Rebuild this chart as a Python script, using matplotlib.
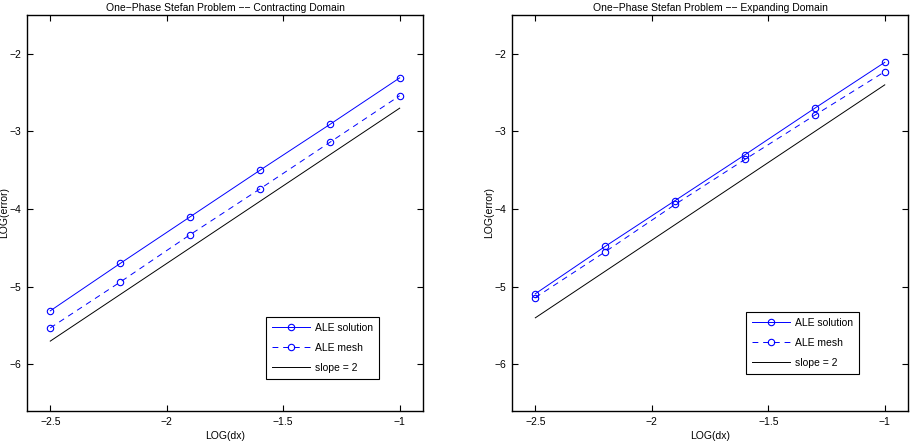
import matplotlib
matplotlib.use("Agg")
import matplotlib.pyplot as plt

dx = [-2.5, -2.2, -1.9, -1.6, -1.3, -1.0]

# contracting domain
con_sol = [-5.31, -4.70, -4.10, -3.50, -2.91, -2.31]
con_mesh = [-5.53, -4.94, -4.33, -3.74, -3.14, -2.54]
con_slope_x = [-2.5, -1.0]
con_slope_y = [-5.70, -2.70]

# expanding domain
exp_sol = [-5.09, -4.48, -3.89, -3.30, -2.70, -2.11]
exp_mesh = [-5.14, -4.55, -3.94, -3.36, -2.79, -2.23]
exp_slope_x = [-2.5, -1.0]
exp_slope_y = [-5.40, -2.40]

titles = ["One\u2212Phase Stefan Problem \u2212\u2212 Contracting Domain",
          "One\u2212Phase Stefan Problem \u2212\u2212 Expanding Domain"]
xticks = [-2.5, -2, -1.5, -1]
xtick_labels = ["\u22122.5", "\u22122", "\u22121.5", "\u22121"]
yticks = [-6, -5, -4, -3, -2]
ytick_labels = ["\u22126", "\u22125", "\u22124", "\u22123", "\u22122"]

plt.rcParams['font.family'] = ['Liberation Sans', 'DejaVu Sans']
fig = plt.figure(figsize=(9.14, 4.44), dpi=100)

panels = [
    (0.0295, con_sol, con_mesh, con_slope_x, con_slope_y, (0.604, 0.081)),
    (0.5602, exp_sol, exp_mesh, exp_slope_x, exp_slope_y, (0.591, 0.093)),
]

for i, (left, sol, mesh, sx, sy, lg) in enumerate(panels):
    ax = fig.add_axes([left, 0.0743, 0.4333, 0.892])
    ax.plot(dx, sol, '-o', color='#0000ff', lw=0.7, ms=4.6, mfc='none', mew=0.8, label='ALE solution')
    ax.plot(dx, mesh, '--o', color='#0000ff', lw=0.7, ms=4.6, mfc='none', mew=0.8,
            dashes=(6, 5), label='ALE mesh')
    ax.plot(sx, sy, '-', color='black', lw=0.7, label='slope = 2')
    ax.set_xlim(-2.6, -0.9)
    ax.set_ylim(-6.6, -1.5)
    ax.set_xticks(xticks)
    ax.set_xticklabels(xtick_labels)
    ax.set_yticks(yticks)
    ax.set_yticklabels(ytick_labels)
    ax.tick_params(direction='in', top=True, right=True, labelsize=7.5, length=4, width=0.8, pad=4)
    for s in ax.spines.values():
        s.set_linewidth(1.0)
    ax.set_title(titles[i], fontsize=7.5, pad=3)
    ax.set_xlabel('LOG(dx)', fontsize=7.5, labelpad=3)
    ax.set_ylabel('LOG(error)', fontsize=7.5, labelpad=0)
    leg = ax.legend(loc='lower left', bbox_to_anchor=lg, borderaxespad=0, fontsize=7.5,
                    fancybox=False, framealpha=1, edgecolor='black', handlelength=3.6,
                    borderpad=0.6, labelspacing=0.95, handletextpad=0.5)
    leg.get_frame().set_linewidth(0.8)

fig.savefig('out.png', dpi=100)
